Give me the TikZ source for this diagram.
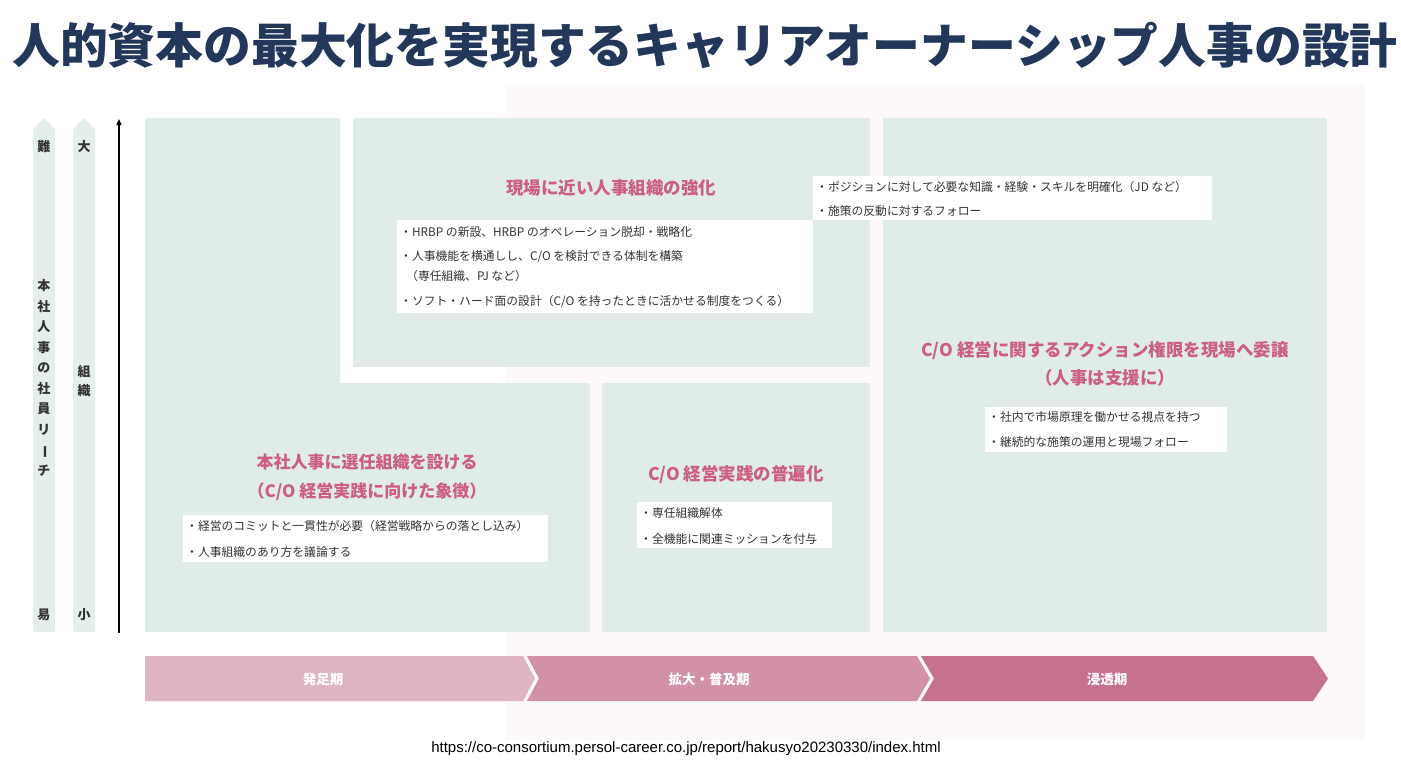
\documentclass[tikz,border=0pt]{standalone}
\usepackage{fontspec}
\setmainfont{Noto Sans CJK JP}
\newfontfamily\urlfont{Liberation Sans}
\usetikzlibrary{arrows.meta}
\definecolor{navy}{HTML}{22375A}
\definecolor{panelc}{HTML}{DFECEA}
\definecolor{barc}{HTML}{E4EFED}
\definecolor{pinkt}{HTML}{CC5F80}
\definecolor{bodyt}{HTML}{333333}
\definecolor{chA}{HTML}{DDB4BF}
\definecolor{chB}{HTML}{D291A6}
\definecolor{chC}{HTML}{C6728E}
\definecolor{glowc}{HTML}{FDF9FA}
\tikzset{
  panel/.style={fill=panelc, draw=none, inner sep=0, outer sep=0},
  wbox/.style={fill=white, draw=none, inner sep=0, outer sep=0},
  ptitle/.style={text=pinkt, font=\fontsize{17.5}{26}\selectfont\bfseries, align=center, inner sep=0},
  btext/.style={text=bodyt, font=\fontsize{11.8}{14}\selectfont, anchor=west, inner sep=0},
  chlabel/.style={text=white, font=\fontsize{13.5}{16}\selectfont\bfseries, inner sep=0},
  axlabel/.style={text=bodyt, font=\fontsize{13}{20.5}\selectfont\bfseries, align=center, inner sep=0},
}
\begin{document}
\begin{tikzpicture}[x=1pt,y=-1pt]
\useasboundingbox (0,0) rectangle (1401,782);
\fill[white] (0,0) rectangle (1401,782);
\fill[glowc] (505,85) rectangle (1365,740);

% title
\node[text=navy, font=\fontsize{47.8}{50}\selectfont\bfseries, inner sep=0] (title) at (705,45) {人的資本の最大化を実現するキャリアオーナーシップ人事の設計};

% left axis bars
\fill[barc] (33,632) -- (33,129) -- (44,118) -- (55,129) -- (55,632) -- cycle;
\fill[barc] (73,632) -- (73,129) -- (84,118) -- (95,129) -- (95,632) -- cycle;
\node[axlabel] (hard) at (44,147) {難};
\node[axlabel] (easy) at (44,615) {易};
\node[axlabel] (reach) at (44,378) {本\\社\\人\\事\\の\\社\\員\\リ\\\rotatebox[origin=c]{-90}{ー}\\チ};
\node[axlabel] (big) at (84,147) {大};
\node[axlabel] (small) at (84,615) {小};
\node[axlabel, font=\fontsize{13}{19}\selectfont\bfseries] (org) at (84,381) {組\\織};
\coordinate (axb) at (119,633);
\coordinate (axt) at (119,119);
\draw[line width=1.2pt, -{Triangle[length=6pt,width=5pt]}] (axb) -- (axt);

% panels
\fill[panelc] (145,118) -- (340,118) -- (340,383) -- (590,383) -- (590,632) -- (145,632) -- cycle;
\node[panel, minimum width=517, minimum height=249, anchor=north west] (ptop) at (353,118) {};
\node[panel, minimum width=268, minimum height=249, anchor=north west] (pmid) at (602,383) {};
\node[panel, minimum width=444, minimum height=514, anchor=north west] (pright) at (883,118) {};

% top middle
\node[ptitle] (t1) at (611,188) {現場に近い人事組織の強化};
\node[wbox, minimum width=416, minimum height=93, anchor=north west] (b1) at (397,220) {};
\node[btext] (b1a) at (400,232) {・HRBP の新設、HRBP のオペレーション脱却・戦略化};
\node[btext] (b1b) at (400,257) {・人事機能を横通しし、C/O を検討できる体制を構築};
\node[btext] (b1c) at (406,276) {（専任組織、PJ など）};
\node[btext] (b1d) at (400,302) {・ソフト・ハード面の設計（C/O を持ったときに活かせる制度をつくる）};

% top right strip
\node[wbox, minimum width=399, minimum height=44, anchor=north west] (b2) at (813,176) {};
\node[btext] (b2a) at (816,187) {・ポジションに対して必要な知識・経験・スキルを明確化（JD など）};
\node[btext] (b2b) at (816,211) {・施策の反動に対するフォロー};

% right panel
\node[ptitle, font=\fontsize{17.5}{28}\selectfont\bfseries] (t3) at (1105,364) {C/O 経営に関するアクション権限を現場へ委譲\\（人事は支援に）};
\node[wbox, minimum width=242, minimum height=45, anchor=north west] (b3) at (985,407) {};
\node[btext] (b3a) at (988,417) {・社内で市場原理を働かせる視点を持つ};
\node[btext] (b3b) at (988,442) {・継続的な施策の運用と現場フォロー};

% bottom left
\node[ptitle, font=\fontsize{17}{29}\selectfont\bfseries] (t4) at (367,477) {本社人事に選任組織を設ける\\（C/O 経営実践に向けた象徴）};
\node[wbox, minimum width=365, minimum height=47, anchor=north west] (b4) at (183,515) {};
\node[btext] (b4a) at (186,526) {・経営のコミットと一貫性が必要（経営戦略からの落とし込み）};
\node[btext] (b4b) at (186,552) {・人事組織のあり方を議論する};

% bottom middle
\node[ptitle] (t5) at (736,475) {C/O 経営実践の普遍化};
\node[wbox, minimum width=195, minimum height=46, anchor=north west] (b5) at (637,502) {};
\node[btext] (b5a) at (640,513) {・専任組織解体};
\node[btext] (b5b) at (640,539) {・全機能に関連ミッションを付与};

% chevrons
\fill[chA] (145,656) -- (523,656) -- (535,678.5) -- (523,701) -- (145,701) -- cycle;
\fill[chB] (527,656) -- (917,656) -- (930,678.5) -- (917,701) -- (527,701) -- (539,678.5) -- cycle;
\fill[chC] (921,656) -- (1313,656) -- (1328,678.5) -- (1313,701) -- (921,701) -- (934,678.5) -- cycle;
\node[chlabel] (c1) at (323,679) {発足期};
\node[chlabel] (c2) at (709,679) {拡大・普及期};
\node[chlabel] (c3) at (1107,679) {浸透期};

% url
\node[font=\urlfont\fontsize{15}{16}\selectfont, text=black, inner sep=0] (url) at (686,749) {https://co-consortium.persol-career.co.jp/report/hakusyo20230330/index.html};
\end{tikzpicture}
\end{document}
